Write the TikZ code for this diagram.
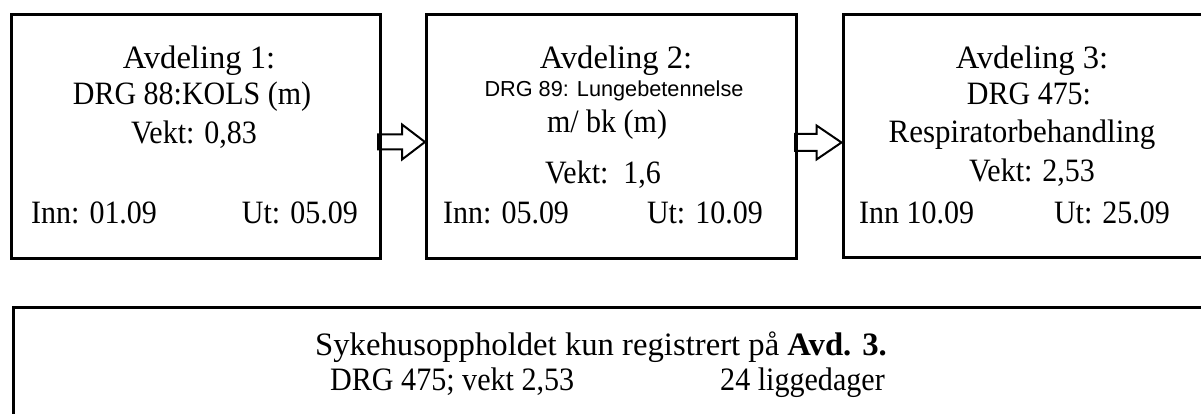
\documentclass[tikz,border=0pt]{standalone}
\usepackage{fontspec}
\setmainfont{Liberation Serif}
\newfontfamily\arialfont{Liberation Sans}
\newcommand{\narrowtxt}[1]{\scalebox{0.92}[1]{#1}}
\begin{document}
\begin{tikzpicture}[x=1pt,y=-1pt,
  box/.style={draw, line width=3pt, inner sep=0pt},
  txt/.style={font=\fontsize{32.6}{39}\selectfont, inner sep=0pt, anchor=base},
  ltxt/.style={txt, anchor=base west},
  rtxt/.style={txt, anchor=base east},
  stxt/.style={font=\arialfont\fontsize{21.7}{26}\selectfont, inner sep=0pt, anchor=base},
  btxt/.style={font=\fontsize{32.7}{39}\selectfont, inner sep=0pt, anchor=base},
  blk/.style={draw, line width=2pt, line join=miter}]
\useasboundingbox (0,0) rectangle (1201,414);
\clip (0,0) rectangle (1201,414);
% boxes
\node[box, minimum width=368.5pt, minimum height=243pt] (b1) at (195.75,136.5) {};
\node[box, minimum width=370pt, minimum height=243pt] (b2) at (611.5,136.5) {};
\node[box, minimum width=370pt, minimum height=242pt] (b3) at (1028,136) {};
\node[box, minimum width=1220pt, minimum height=200pt, anchor=north west] (b4) at (11.5,306) {};
% box 1
\node[txt] (a1) at (199,69) {Avdeling 1:};
\node[txt] (d1) at (192,105) {\narrowtxt{DRG 88:KOLS (m)}};
\node[txt] (v1) at (194,144) {\narrowtxt{Vekt: 0,83}};
\node[ltxt] (i1) at (31,223) {\narrowtxt{Inn: 01.09}};
\node[rtxt] (u1) at (358,223) {\narrowtxt{Ut: 05.09}};
% box 2
\node[txt] (a2) at (616,69) {Avdeling 2:};
\node[stxt] (d2) at (614,97) {DRG 89: Lungebetennelse};
\node[txt] (m2) at (607,133) {\narrowtxt{m/ bk (m)}};
\node[txt] (v2) at (603,183) {\narrowtxt{Vekt:\ \ 1,6}};
\node[ltxt] (i2) at (443,223) {\narrowtxt{Inn: 05.09}};
\node[rtxt] (u2) at (763,223) {\narrowtxt{Ut: 10.09}};
% box 3
\node[txt] (a3) at (1032,69) {Avdeling 3:};
\node[txt] (d3) at (1029,105) {\narrowtxt{DRG 475:}};
\node[txt] (r3) at (1022,143) {\scalebox{0.95}[1]{Respiratorbehandling}};
\node[txt] (v3) at (1032,182) {\narrowtxt{Vekt: 2,53}};
\node[ltxt] (i3) at (859,223) {\narrowtxt{Inn 10.09}};
\node[rtxt] (u3) at (1170,223) {\narrowtxt{Ut: 25.09}};
% bottom box
\node[btxt] (s1) at (601,355) {Sykehusoppholdet kun registrert på \textbf{Avd. 3.}};
\node[btxt, anchor=base west] (s2) at (330,390) {\narrowtxt{DRG 475; vekt 2,53}};
\node[btxt, anchor=base west] (s3) at (720,390) {\narrowtxt{24 liggedager}};
% block arrows
\coordinate (t1) at ([yshift=-5.5pt]b2.west);
\draw[blk] (t1) -- ++(-23,-17.5) -- ++(0,10) -- ++(-24,0) -- ++(0,15) -- ++(24,0) -- ++(0,10) -- cycle;
\coordinate (t2) at ([yshift=-6.5pt]b3.west);
\draw[blk] (t2) -- ++(-25,-17) -- ++(0,8.5) -- ++(-21.5,0) -- ++(0,17) -- ++(21.5,0) -- ++(0,8.5) -- cycle;
\end{tikzpicture}
\end{document}
